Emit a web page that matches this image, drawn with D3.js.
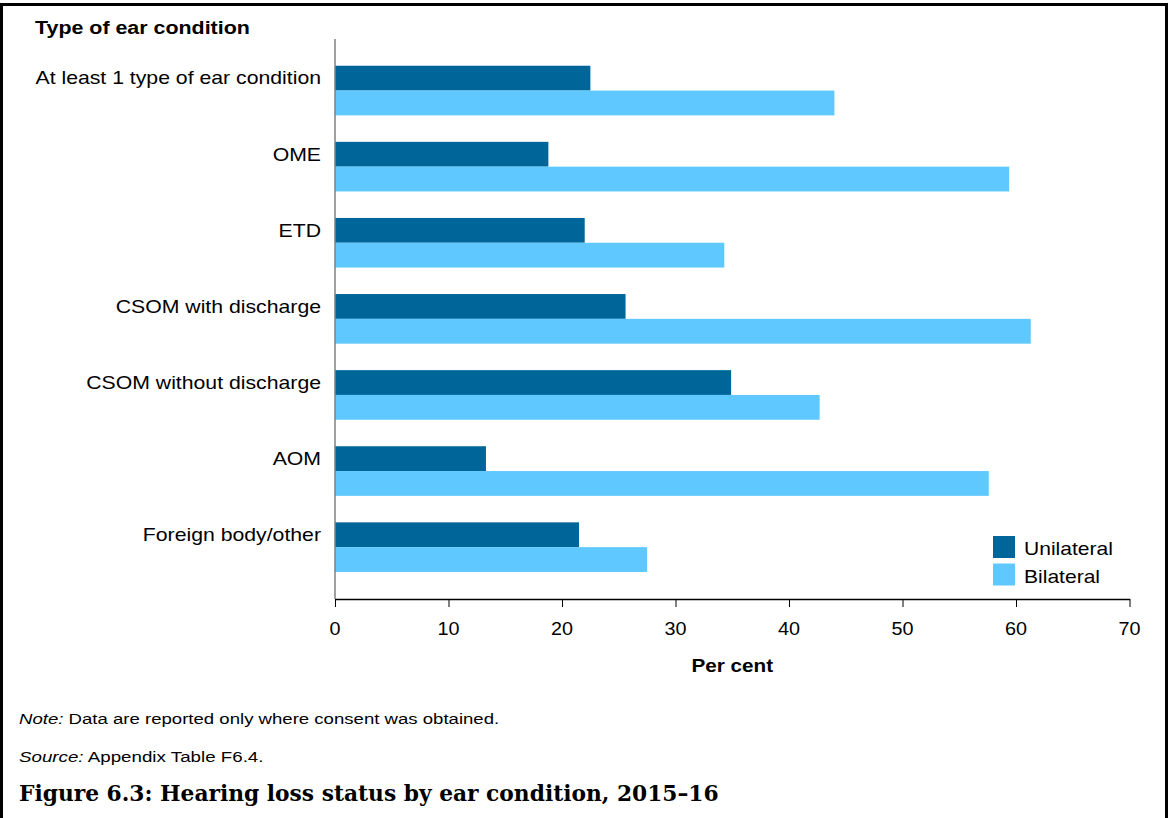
<!DOCTYPE html>
<html><head><meta charset="utf-8">
<script src="https://cdn.jsdelivr.net/npm/d3@7"></script>
<style>
body{margin:0;background:#fff;}
svg{display:block;}
text{font-family:"Liberation Sans",Arial,sans-serif;fill:#000;}
</style></head>
<body>
<svg id="c" width="1168" height="818"></svg>
<script>
const categories = ["At least 1 type of ear condition","OME","ETD","CSOM with discharge","CSOM without discharge","AOM","Foreign body/other"];
const seriesNames = ["Unilateral","Bilateral"];
const unilateral = [22.5, 18.8, 22.0, 25.6, 34.9, 13.3, 21.5];
const bilateral  = [44.0, 59.4, 34.3, 61.3, 42.7, 57.6, 27.5];
const xTicks = [0,10,20,30,40,50,60,70];
const colors = ["#006699","#5FC8FF"];

const SX = 1.18;
const svg = d3.select("#c");
function txt(parent, x, y, str, opts) {
  opts = opts || {};
  const t = parent.append("text")
    .attr("transform", `translate(${x},${y}) scale(${opts.sx || SX},1)`)
    .attr("font-size", opts.size || 18)
    .attr("text-anchor", opts.anchor || "start");
  if (opts.bold) t.attr("font-weight", "bold");
  if (opts.dy) t.attr("dy", opts.dy);
  if (str !== null) t.text(str);
  return t;
}

// frame
svg.append("path").attr("d","M1.5,818 V4.5 H1166.5 V818").attr("fill","none").attr("stroke","#000").attr("stroke-width",3);

const x = d3.scaleLinear().domain([0,70]).range([335,1129.5]);
const y = d3.scaleBand().domain(categories).range([52.5,585.2]).paddingInner(0.348).paddingOuter(0.174);
const ys = d3.scaleBand().domain(seriesNames).range([0,y.bandwidth()]);

const data = categories.map((c,i)=>({cat:c, vals:[unilateral[i],bilateral[i]]}));

const g = svg.append("g");
data.forEach(d=>{
  seriesNames.forEach((s,j)=>{
    g.append("rect")
      .attr("x",x(0)).attr("y",y(d.cat)+ys(s))
      .attr("width",x(d.vals[j])-x(0)).attr("height",ys.bandwidth())
      .attr("fill",colors[j]);
  });
});

// y axis line
svg.append("line").attr("x1",x(0)).attr("x2",x(0)).attr("y1",39).attr("y2",599).attr("stroke","#808080").attr("stroke-width",1.5);

// category labels
const cl = svg.append("g");
categories.forEach(c=>{
  txt(cl, 321, y(c)+ys.bandwidth()/2, c, {anchor:"end", dy:"0.35em"});
});

// x axis
const xa = svg.append("g").attr("transform","translate(0,599)")
  .call(d3.axisBottom(x).tickValues(xTicks).tickSize(8).tickPadding(14.6).tickSizeOuter(0).tickFormat(()=>""));
xa.select(".domain").attr("stroke","#000").attr("stroke-width",1.5);
xa.selectAll(".tick line").attr("stroke","#000").attr("stroke-width",1);
const tl = svg.append("g");
xTicks.forEach(v=>{
  txt(tl, x(v), 634.5, String(v), {anchor:"middle", sx:1.1});
});

txt(svg, (x(0)+x(70))/2, 672, "Per cent", {anchor:"middle", bold:true, sx:1.15});
txt(svg, 35, 34, "Type of ear condition", {bold:true, sx:1.19});

// legend
const lg = svg.append("g");
seriesNames.forEach((s,j)=>{
  lg.append("rect").attr("x",993).attr("y",536+j*27.5).attr("width",22).attr("height",22).attr("fill",colors[j]);
  txt(lg, 1024, 549+j*27.5, s, {dy:"0.35em", sx:1.17});
});

// footer
const n = txt(svg, 19, 724, null, {size:15, sx:1.24});
n.append("tspan").attr("font-style","italic").text("Note:");
n.append("tspan").text(" Data are reported only where consent was obtained.");
const s2 = txt(svg, 19, 762, null, {size:15, sx:1.25});
s2.append("tspan").attr("font-style","italic").text("Source:");
s2.append("tspan").text(" Appendix Table F6.4.");
svg.append("text").attr("x",19).attr("y",801).attr("font-size",21.75).attr("font-weight","bold")
  .style("font-family","'DejaVu Serif','Liberation Serif',serif")
  .text("Figure 6.3: Hearing loss status by ear condition, 2015–16");
</script>
</body></html>
